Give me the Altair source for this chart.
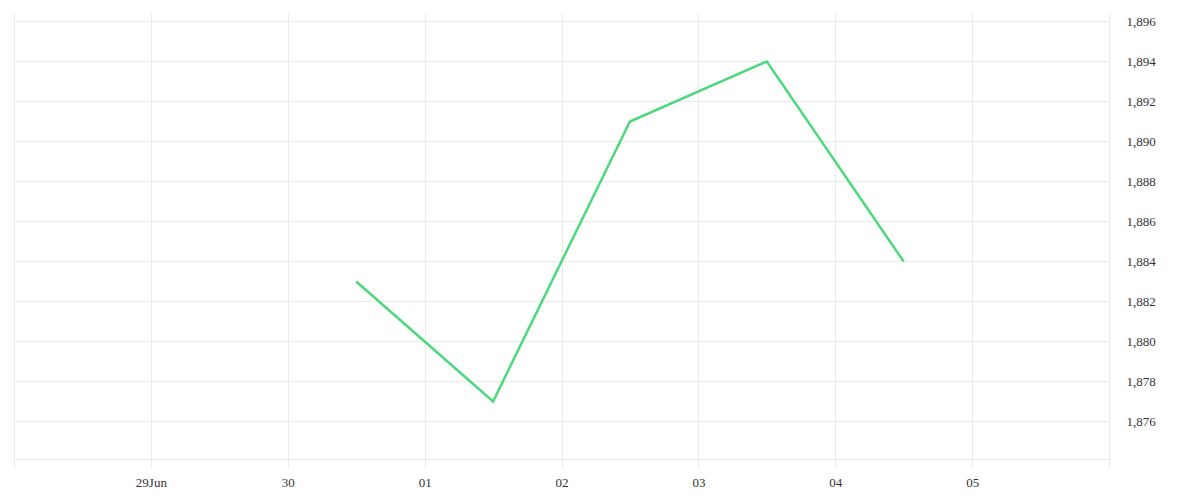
import altair as alt
import pandas as pd

dates = ["2020-06-30T12:00:00Z", "2020-07-01T12:00:00Z", "2020-07-02T12:00:00Z",
         "2020-07-03T12:00:00Z", "2020-07-04T12:00:00Z"]
values = [1883, 1877, 1891, 1894, 1884]
y_ticks = [1876, 1878, 1880, 1882, 1884, 1886, 1888, 1890, 1892, 1894, 1896]
day_ticks = [(6, 28), (6, 29), (6, 30), (7, 1), (7, 2), (7, 3), (7, 4), (7, 5), (7, 6)]

df = pd.DataFrame({"t": dates, "v": values})

FONT = "Liberation Serif"
GRID = "#ebebeb"

x_vals = [alt.DateTime(year=2020, month=m, date=d, utc=True) for m, d in day_ticks]

chart = alt.Chart(df).mark_line(color="#4cd97b", strokeWidth=2.5).encode(
    x=alt.X("t:T",
            scale=alt.Scale(type="utc",
                            domain=[alt.DateTime(year=2020, month=6, date=28, utc=True),
                                    alt.DateTime(year=2020, month=7, date=6, utc=True)]),
            axis=alt.Axis(title=None, values=x_vals, grid=True, gridColor=GRID,
                          domainColor=GRID, tickColor=GRID, tickSize=9,
                          labelFont=FONT, labelFontSize=13, labelColor="#333",
                          labelPadding=8,
                          labelExpr="utcdate(datum.value)==28 || utcdate(datum.value)==6 ? '' : (utcdate(datum.value)==29 ? '29Jun' : utcFormat(datum.value, '%d'))")),
    y=alt.Y("v:Q",
            scale=alt.Scale(domain=[1874.125, 1896.425], nice=False, zero=False),
            axis=alt.Axis(title=None, orient="right", values=y_ticks, format=",",
                          grid=True, gridColor=GRID, domainColor=GRID, ticks=False,
                          labelFont=FONT, labelFontSize=13, labelColor="#333",
                          labelPadding=17)),
).properties(
    width=1095, height=446,
    padding={"left": 5, "top": 5, "right": 5, "bottom": 5},
).configure_view(stroke=None)

chart.save("out.html", embed_options={"renderer": "svg", "actions": False})
